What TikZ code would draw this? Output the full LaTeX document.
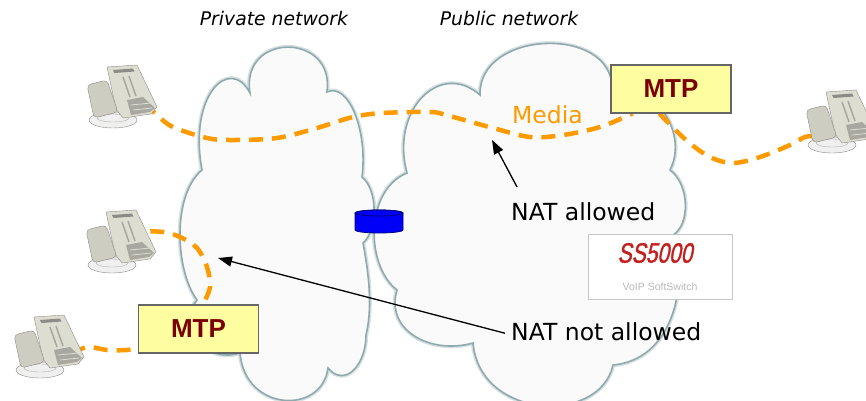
\documentclass[tikz,border=0pt]{standalone}
\usepackage{fontspec}
\usepackage{tikz}
\usetikzlibrary{positioning,arrows.meta,shapes.geometric}

\newfontfamily\labelfont{DejaVu Sans}
\newfontfamily\mtpfont{Liberation Sans}
\newfontfamily\logofont[FakeStretch=0.75,FakeSlant=0.2,FakeBold=1.2]{Liberation Sans}

\definecolor{cloudline}{HTML}{8EAAAC}
\definecolor{mediaorange}{HTML}{FF9A00}
\definecolor{mtpfill}{HTML}{FEFEA0}
\definecolor{mtptext}{HTML}{7A0000}
\definecolor{fwblue}{HTML}{0000F8}
\definecolor{ssred}{HTML}{C42020}
\definecolor{phonebody}{HTML}{DEDDD2}
\definecolor{phonehand}{HTML}{CDCDC2}
\definecolor{phonekeys}{HTML}{A8A8A0}
\definecolor{phonedark}{HTML}{8C8C86}

\pgfdeclarelayer{clouds}
\pgfdeclarelayer{cords}
\pgfsetlayers{clouds,cords,main}

\begin{document}
\begin{tikzpicture}[x=1pt,y=-1pt,>={Triangle[length=14pt,width=10pt]},
  cloud/.style={draw=cloudline,line width=1.6pt,fill=white!98!black,
    preaction={draw=cloudline!35,line width=4.5pt}},
  media/.style={draw=mediaorange,line width=4.5pt,dash pattern=on 14pt off 9pt},
  mtp/.style={draw=gray!80!black,line width=1.2pt,fill=mtpfill,minimum width=120pt,
    minimum height=48pt,inner sep=0pt,text=mtptext,
    font=\mtpfont\bfseries\fontsize{26}{30}\selectfont},
  lbl/.style={inner sep=0pt,font=\labelfont\fontsize{23.5}{28}\selectfont},
  nettitle/.style={inner sep=0pt,font=\labelfont\itshape\fontsize{18.8}{22}\selectfont},
  pointer/.style={->,line width=1.3pt},
  phone/.pic={
    \draw[phonedark,fill=gray!12] (-8,23) ellipse [x radius=24,y radius=8];
    \draw[phonedark!70] (-8,21) ellipse [x radius=16,y radius=4];
    \draw[phonedark,fill=phonebody,line join=round] (-14,-30) -- (16,-32) -- (36,10)
      -- (30,17) -- (2,21) -- (-5,12) -- cycle;
    \fill[phonedark] (-8,-27) -- (12,-28.5) -- (13.5,-25.5) -- (-6.5,-24) -- cycle;
    \draw[phonekeys,line width=1.5pt] (2,-20) -- (9,0) (8,-21) -- (15,-1);
    \fill[phonekeys] (6,3) -- (22,0) -- (34,11) -- (29,15) -- (10,18) -- cycle;
    \draw[phonebody,line width=0.8pt] (10,8) -- (30,6) (12,13) -- (31,11);
    \draw[phonedark,fill=phonehand,rounded corners=4pt] (-34,-12) -- (-14,-17)
      -- (-3,15) -- (-27,21) -- cycle;
    \coordinate (-jack) at (24,6);
    \coordinate (-hook) at (-24,14);
  }]
\useasboundingbox (0,0) rectangle (866,400);
\clip (0,0) rectangle (866,400);

% the two networks
\begin{pgfonlayer}{clouds}
\draw[cloud] (250,93) .. controls (240,32) and (335,32) .. (327,92)
  .. controls (348,82) and (368,130) .. (362,177)
  .. controls (378,190) and (378,230) .. (363,243)
  .. controls (370,280) and (372,310) .. (366,335)
  .. controls (366,365) and (345,388) .. (328,368)
  .. controls (322,415) and (245,412) .. (240,353)
  .. controls (200,365) and (180,320) .. (197,300)
  .. controls (175,270) and (172,195) .. (202,170)
  .. controls (188,95) and (230,55) .. (250,93) -- cycle;
\draw[cloud] (480,95) .. controls (478,30) and (612,25) .. (612,88)
  .. controls (650,80) and (690,130) .. (670,170)
  .. controls (690,185) and (690,225) .. (673,235)
  .. controls (690,290) and (670,360) .. (613,365)
  .. controls (600,425) and (480,420) .. (473,343)
  .. controls (430,355) and (385,330) .. (397,290)
  .. controls (365,265) and (365,190) .. (407,173)
  .. controls (390,110) and (440,60) .. (480,95) -- cycle;
\end{pgfonlayer}

\node[nettitle,anchor=base] (private) at (274,25) {Private network};
\node[nettitle,anchor=base] (public) at (509,25) {Public network};

% NAT device between them
\filldraw[fill=fwblue,draw=blue!50!black,line width=0.8pt] (355,213) -- (355,230)
  arc[start angle=180,end angle=0,x radius=24,y radius=3] -- (403,213)
  arc[start angle=0,end angle=-180,x radius=24,y radius=3] -- cycle;
\draw[blue!50!black,line width=0.8pt] (379,213) ellipse [x radius=24,y radius=3];

% endpoints
\pic (ph1) at (121,97) {phone};
\pic (ph2) at (120,242) {phone};
\pic (ph3) at (48,347) {phone};
\pic (ph4) at (840,122) {phone};

\node[mtp] (mtpR) at (671,89) {MTP};
\node[mtp] (mtpL) at (198.5,329) {MTP};

\node[draw=gray!45,line width=1pt,fill=white,minimum width=144pt,minimum height=65pt]
  (ss) at (660,266.5) {};
\node[inner sep=0pt,text=ssred,font=\logofont\fontsize{28}{30}\selectfont]
  (sslogo) at (655,253) {SS5000};
\node[inner sep=0pt,text=gray!55,font=\mtpfont\fontsize{10.5}{12}\selectfont]
  (sssub) at (660,287) {VoIP SoftSwitch};

% media streams
\begin{pgfonlayer}{cords}
\draw[media] plot[smooth,tension=0.55] coordinates {(ph1-jack) (157,115) (173,127)
  (207,138) (233,140) (277,138) (317,128) (353,117) (383,113) (430,112) (446,115)
  (493,128) (530,137) (563,135) (600,127) ([xshift=22pt]mtpR.south west)};
\draw[media] plot[smooth,tension=0.55] coordinates {([xshift=49pt]mtpR.south west)
  (686,140) (710,157) (733,163) (760,157) (790,145) (805,137) (ph4-hook)};
\draw[media] plot[smooth,tension=0.55] coordinates {(ph2-jack) (143,233) (163,232)
  (180,237) (197,248) (207,267) (210,287) ([xshift=65pt]mtpL.north west)};
\draw[media] plot[smooth,tension=0.55] coordinates {(ph3-jack) (88,347) (107,350)
  (127,350) ([yshift=-19pt]mtpL.west)};
\end{pgfonlayer}

\node[lbl,text=mediaorange,anchor=base west] (media) at (512,123) {Media};
\node[lbl,anchor=base west] (natok) at (511,220) {NAT allowed};
\node[lbl,anchor=base west] (natno) at (511,340) {NAT not allowed};

\coordinate (natokTip) at (492,140);
\coordinate (natnoTip) at (218,258);
\draw[pointer] ([xshift=6pt,yshift=15pt]natok.north west) -- (natokTip);
\draw[pointer] ([xshift=-6pt,yshift=-2pt]natno.west) -- (natnoTip);
\end{tikzpicture}
\end{document}
